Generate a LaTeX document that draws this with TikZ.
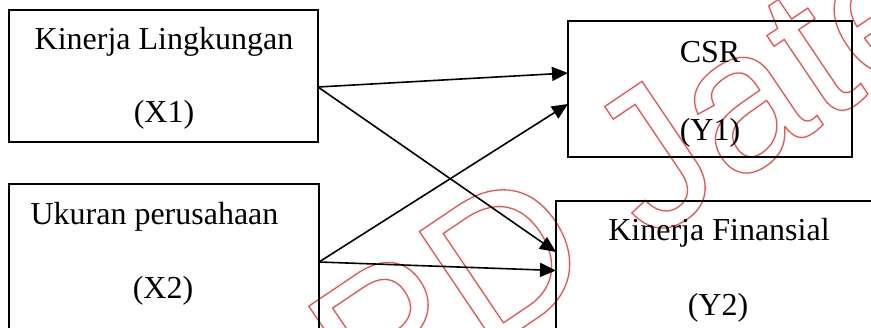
\documentclass[tikz,border=0pt]{standalone}
\usepackage{fontspec}
\setmainfont{Liberation Serif}
\newfontfamily\wmfont{Liberation Sans}
\usetikzlibrary{arrows.meta,calc}
\definecolor{wmred}{RGB}{245,80,80}
\tikzset{
  box/.style={draw, line width=1.9pt, inner sep=0pt, outer sep=0pt},
  lbl/.style={font=\fontsize{32}{38}\selectfont, inner sep=0pt, anchor=base},
  conn/.style={line width=1.6pt, -{Triangle[length=16pt,width=14pt]}},
  wm/.style={font=\wmfont\fontsize{200}{200}\selectfont, text=wmred, inner sep=0pt, anchor=base west, rotate=34}
}
\newcommand{\outl}[1]{\special{pdf:literal q 1 Tr 1.3 w}#1\special{pdf:literal Q}}
\begin{document}
\begin{tikzpicture}[x=1pt,y=-1pt]
\useasboundingbox (0,0) rectangle (871,327);
\clip (0,0) rectangle (871,327);
\fill[white] (0,0) rectangle (871,327);
% watermark
\node[wm] (wmark) at (372,429.5) {\outl{PD Jateng}};
% boxes
\node[box, minimum width=309pt, minimum height=132pt] (x1) at (163.5,76) {};
\node[box, minimum width=310pt, minimum height=156pt] (x2) at (164,262) {};
\node[box, minimum width=284pt, minimum height=136pt] (y1) at (710,89) {};
\node[box, minimum width=324pt, minimum height=139pt] (y2) at (718,270.5) {};
% labels
\node[lbl] (tx1a) at (164,49) {Kinerja Lingkungan};
\node[lbl] (tx1b) at (164,122) {(X1)};
\node[lbl] (tx2a) at (154.5,224) {Ukuran perusahaan};
\node[lbl] (tx2b) at (163,298) {(X2)};
\node[lbl] (ty1a) at (710,62) {CSR};
\node[lbl] (ty1b) at (710,140) {(Y1)};
\node[lbl] (ty2a) at (719,240) {Kinerja Finansial};
\node[lbl] (ty2b) at (718,315) {(Y2)};
% connectors
\draw[conn] ([yshift=-11pt]x1.east) -- ([yshift=16pt]y1.west);
\draw[conn] (x2.east) -- ([yshift=-15pt]y1.west);
\draw[conn] ([yshift=-11pt]x1.east) -- ([yshift=18.5pt]y2.west);
\draw[conn] (x2.east) -- ([yshift=0pt]y2.west);
\end{tikzpicture}
\end{document}
